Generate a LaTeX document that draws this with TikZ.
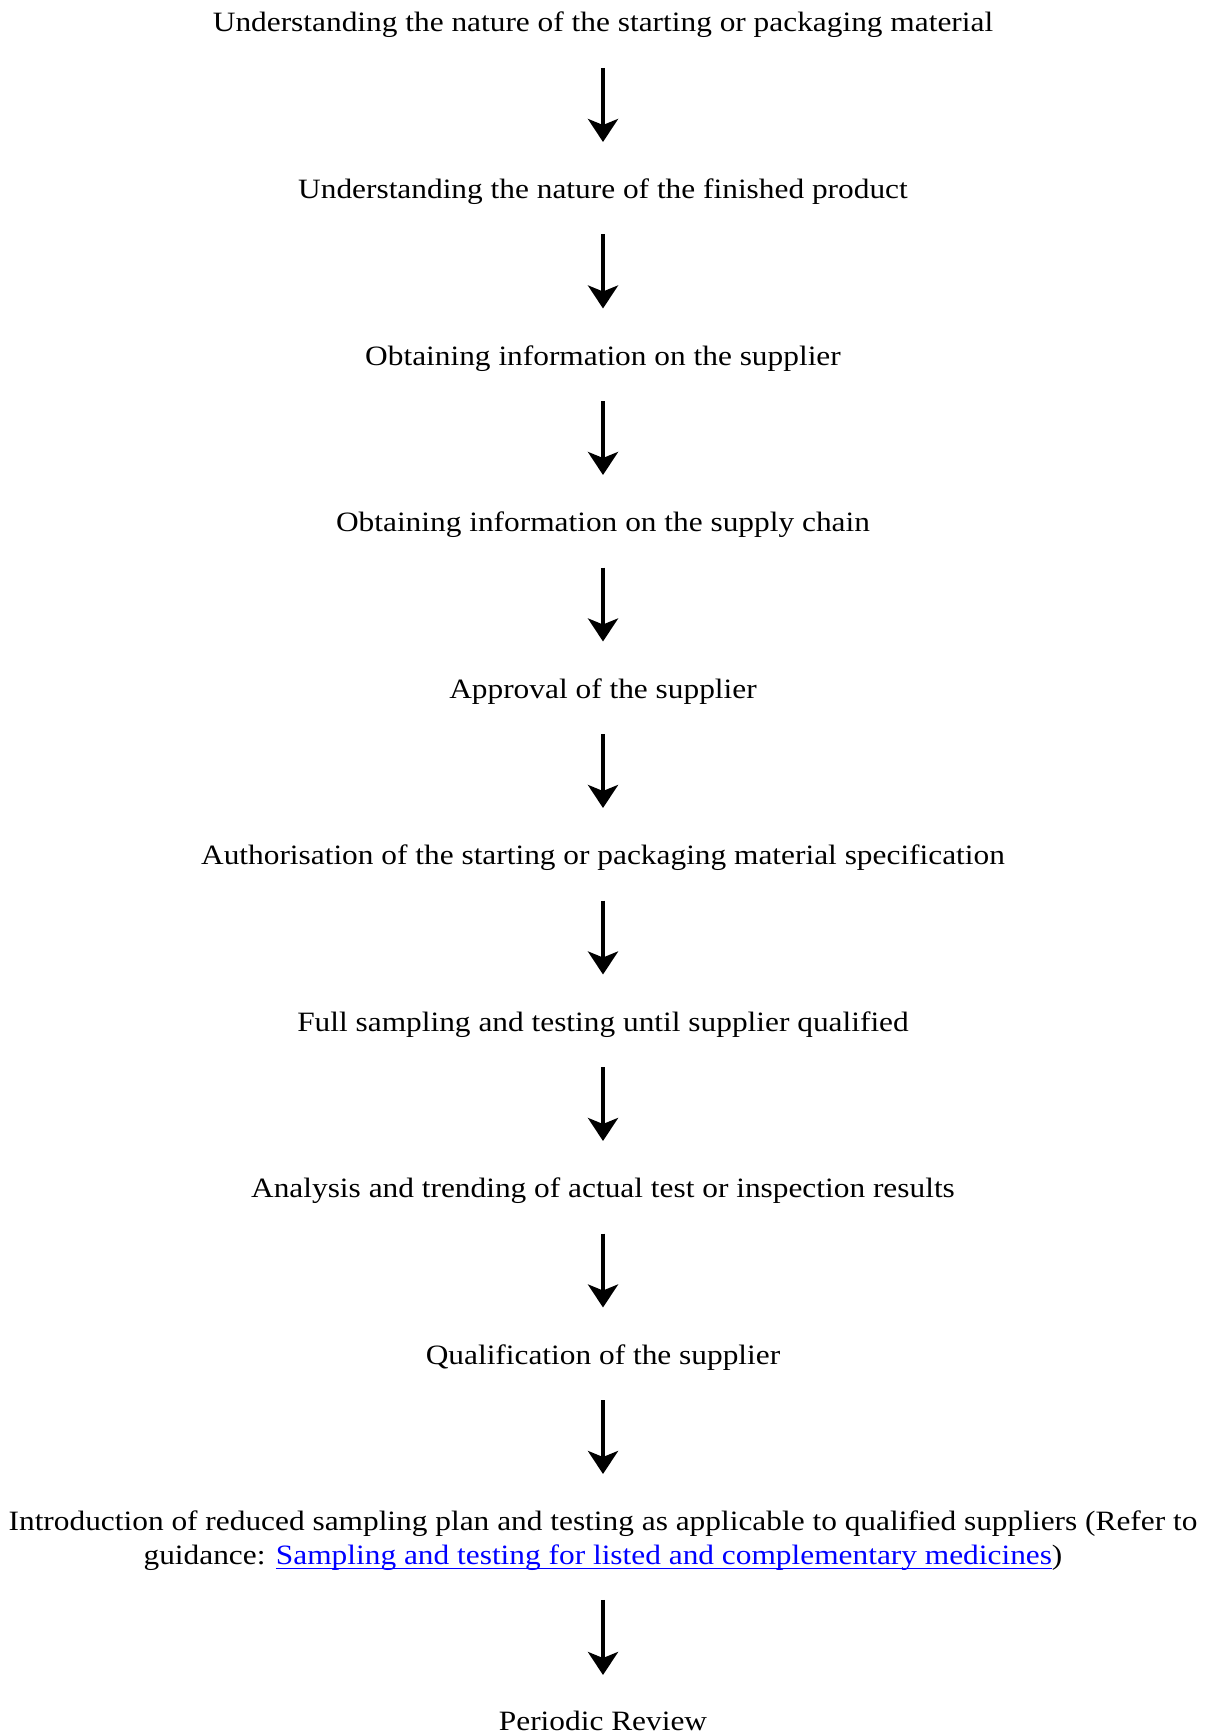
\documentclass[tikz,border=0pt]{standalone}
\usepackage{fontspec}
\setmainfont{Liberation Serif}[FakeStretch=1.12]
\newsavebox\linkbox
\newcommand\linkul[1]{\sbox\linkbox{#1}\rlap{\rule[-2pt]{\wd\linkbox}{0.6pt}}\usebox\linkbox}
\usetikzlibrary{arrows.meta,calc}
\begin{document}
\begin{tikzpicture}[x=1pt,y=1pt,
  lbl/.style={anchor=base,inner sep=0pt,font=\fontsize{14}{17.1}\selectfont},
  flow/.style={line width=2pt,-{Stealth[length=11.5pt,width=15pt,inset=3pt]}}]
\useasboundingbox (0,0) rectangle (602.5,-866.5);
\def\cx{301.5}
\node[lbl] (s1) at (\cx,-16) {Understanding the nature of the starting or packaging material};
\node[lbl] (s2) at (\cx,-99.25) {Understanding the nature of the finished product};
\node[lbl] (s3) at (\cx,-182.5) {Obtaining information on the supplier};
\node[lbl] (s4) at (\cx,-265.75) {Obtaining information on the supply chain};
\node[lbl] (s5) at (\cx,-349) {Approval of the supplier};
\node[lbl] (s6) at (\cx,-432.25) {Authorisation of the starting or packaging material specification};
\node[lbl] (s7) at (\cx,-515.5) {Full sampling and testing until supplier qualified};
\node[lbl] (s8) at (\cx,-598.75) {Analysis and trending of actual test or inspection results};
\node[lbl] (s9) at (\cx,-682) {Qualification of the supplier};
\node[lbl,align=center] (s10) at (\cx,-782.4) {Introduction of reduced sampling plan and testing as applicable to qualified suppliers (Refer to\\guidance: \textcolor{blue}{\linkul{Sampling and testing for listed and complementary medicines}})};
\node[lbl] (s11) at (\cx,-865) {Periodic Review};
\foreach \a/\b in {s1/s2,s2/s3,s3/s4,s4/s5,s5/s6,s6/s7,s7/s8,s8/s9}
  \draw[flow] ($(\a.base)+(0,-18)$) -- ($(\b.base)+(0,28.25)$);
\draw[flow] ($(s9.base)+(0,-18)$) -- ($(s10.base)+(0,45.4)$);
\draw[flow] ($(s10.base)+(0,-17.5)$) -- ($(s11.base)+(0,27.5)$);
\end{tikzpicture}
\end{document}
